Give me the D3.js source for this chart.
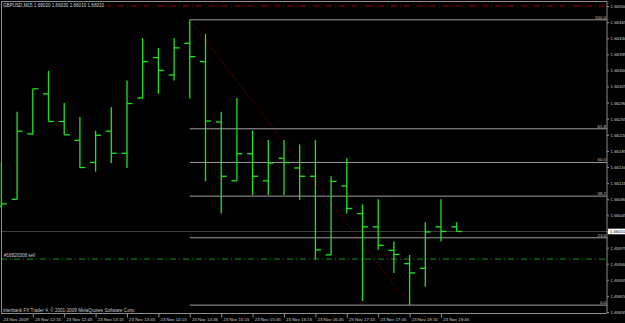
<!DOCTYPE html>
<html lang="en">
<head>
<meta charset="UTF-8">
<title>GBPUSD,M15</title>
<script src="https://d3js.org/d3.v7.min.js"></script>
<style>
    body { margin: 0; background: #000; }
    svg { display: block; font-family: 'Liberation Sans', Arial, sans-serif; }
</style>
</head>
<body>
<svg id="chart" width="625" height="323"></svg>
<script>
// OHLC of the 30 M15 bars (23 Nov 2009, 11:45 .. 19:00)
const open  = [1.66065, 1.66080, 1.66222, 1.66309, 1.66249, 1.66208, 1.66160, 1.66228, 1.66180, 1.66300,
               1.66388, 1.66350, 1.66419, 1.66379, 1.66248, 1.66120, 1.66179, 1.66120, 1.66169, 1.66148,
               1.66130, 1.65959, 1.66109, 1.66049, 1.66020, 1.65969, 1.65940, 1.65930, 1.66020, 1.66020];
const high  = [1.66161, 1.66270, 1.66320, 1.66359, 1.66289, 1.66259, 1.66229, 1.66280, 1.66338, 1.66430,
               1.66409, 1.66430, 1.66470, 1.66439, 1.66270, 1.66300, 1.66229, 1.66209, 1.66209, 1.66199,
               1.66209, 1.66130, 1.66169, 1.66069, 1.66080, 1.65988, 1.65959, 1.66030, 1.66080, 1.66030];
const low   = [1.66061, 1.66080, 1.66220, 1.66249, 1.66220, 1.66148, 1.66140, 1.66159, 1.66148, 1.66299,
               1.66309, 1.66338, 1.66299, 1.66119, 1.66049, 1.66120, 1.66089, 1.66089, 1.66089, 1.66079,
               1.65949, 1.65959, 1.66049, 1.65859, 1.65970, 1.65920, 1.65850, 1.65890, 1.65988, 1.66010];
const close = [1.66070, 1.66228, 1.66320, 1.66249, 1.66220, 1.66149, 1.66219, 1.66180, 1.66288, 1.66379,
               1.66360, 1.66409, 1.66390, 1.66250, 1.66130, 1.66179, 1.66130, 1.66159, 1.66160, 1.66130,
               1.65970, 1.66119, 1.66060, 1.66020, 1.65980, 1.65960, 1.65920, 1.66009, 1.66010, 1.66010];

const timeTickBars = [0, 2, 4, 6, 8, 10, 12, 14, 16, 18, 20, 22, 24, 26, 28];
const timeTickLabels = ["23 Nov 2009", "23 Nov 12:15", "23 Nov 12:45", "23 Nov 13:15", "23 Nov 13:45",
                        "23 Nov 14:15", "23 Nov 14:45", "23 Nov 15:15", "23 Nov 15:45", "23 Nov 16:15",
                        "23 Nov 16:45", "23 Nov 17:15", "23 Nov 17:45", "23 Nov 18:15", "23 Nov 18:45"];
const priceTicks = [1.66500, 1.66465, 1.66430, 1.66395, 1.66360, 1.66325, 1.66290, 1.66255, 1.66220, 1.66185,
                    1.66150, 1.66115, 1.66080, 1.66045, 1.66010, 1.65975, 1.65940, 1.65905, 1.65870, 1.65835];

// fibonacci retracement drawn from the swing high to the swing low
const fibLevels = [0, 23.6, 38.2, 50, 61.8, 100];
const fibHigh = 1.66470, fibLow = 1.65850;
const fibStartBar = 12, fibEndBar = 26;

const stopLoss = 1.66500;
const orderPrice = 1.65950;
const orderLabel = "#16820308 sell";
const bid = 1.66010;
const title = "GBPUSD,M15  1.66020 1.66030 1.66010 1.66010";
const copyright = "Interbank FX Trader 4, \u00a9 2001-2009 MetaQuotes Software Corp.";

const svg = d3.select("#chart");
const W = 625, H = 323;
const plotRight = 607, plotBottom = 313.5;

const x = d3.scaleLinear().domain([0, open.length - 1]).range([1.4, 456.7]);
const y = d3.scaleLinear().domain([1.65835, 1.66500]).range([312, 6]);

svg.append("rect").attr("width", W).attr("height", H).attr("fill", "#000");

// bid line
svg.append("line")
    .attr("x1", 1).attr("x2", plotRight)
    .attr("y1", y(bid)).attr("y2", y(bid))
    .attr("stroke", "#404040");

// stop loss and order lines
svg.append("line")
    .attr("x1", 1).attr("x2", plotRight)
    .attr("y1", y(stopLoss)).attr("y2", y(stopLoss))
    .attr("stroke", "#a00000").attr("stroke-dasharray", "6,3,1,3");
svg.append("line")
    .attr("x1", 1).attr("x2", plotRight)
    .attr("y1", y(orderPrice)).attr("y2", y(orderPrice))
    .attr("stroke", "#1a8c1a").attr("stroke-dasharray", "6,3,1,3");
svg.append("text")
    .attr("x", 4).attr("y", y(orderPrice) - 1.8)
    .attr("fill", "#d0d0d0").attr("font-size", 4.6)
    .text(orderLabel);

// fibonacci levels
const fibPrice = l => fibLow + (fibHigh - fibLow) * l / 100;
svg.selectAll(".fib").data(fibLevels).join("line")
    .attr("class", "fib")
    .attr("x1", x(fibStartBar)).attr("x2", plotRight)
    .attr("y1", d => y(fibPrice(d))).attr("y2", d => y(fibPrice(d)))
    .attr("stroke", "#a0a0a0");
svg.selectAll(".fibl").data(fibLevels).join("text")
    .attr("class", "fibl")
    .attr("x", plotRight - 1).attr("y", d => y(fibPrice(d)) - 1.2)
    .attr("text-anchor", "end")
    .attr("fill", "#c8c8c8").attr("font-size", 4.4)
    .text(d => d.toFixed(1));
svg.append("line")
    .attr("x1", x(fibStartBar)).attr("y1", y(fibHigh))
    .attr("x2", x(fibEndBar)).attr("y2", y(fibLow))
    .attr("stroke", "#a00000").attr("stroke-dasharray", "1,2");

// OHLC bars
const idx = d3.range(open.length);
const barColor = "#1ee61e";
const bars = svg.append("g").attr("stroke", barColor).attr("stroke-width", 1.3);
bars.selectAll(".hl").data(idx).join("line")
    .attr("x1", i => x(i)).attr("x2", i => x(i))
    .attr("y1", i => y(high[i])).attr("y2", i => y(low[i]));
bars.selectAll(".op").data(idx).join("line")
    .attr("x1", i => x(i) - 5.5).attr("x2", i => x(i))
    .attr("y1", i => y(open[i])).attr("y2", i => y(open[i]));
bars.selectAll(".cl").data(idx).join("line")
    .attr("x1", i => x(i)).attr("x2", i => x(i) + 5.5)
    .attr("y1", i => y(close[i])).attr("y2", i => y(close[i]));

// title with black background over the stop line
const t = svg.append("text")
    .attr("x", 3).attr("y", 6.8)
    .attr("fill", "#d8d8d8").attr("font-size", 4.6)
    .text(title);
const bb = t.node().getBBox();
svg.insert("rect", "text")
    .attr("x", 2).attr("y", 2).attr("width", bb.width + 3).attr("height", 7)
    .attr("fill", "#000");

svg.append("text")
    .attr("x", 3).attr("y", 311.5)
    .attr("fill", "#c8c8c8").attr("font-size", 4.6)
    .text(copyright);

// frame
const frame = svg.append("g").attr("stroke", "#8c8c8c");
frame.append("line").attr("x1", 1).attr("x2", plotRight).attr("y1", 1.5).attr("y2", 1.5);
frame.append("line").attr("x1", 1.5).attr("x2", 1.5).attr("y1", 1).attr("y2", plotBottom);
frame.append("line").attr("x1", 1).attr("x2", plotRight).attr("y1", plotBottom).attr("y2", plotBottom);
frame.append("line").attr("x1", plotRight).attr("x2", plotRight).attr("y1", 1).attr("y2", plotBottom);

// price axis
const yAxis = svg.append("g")
    .attr("transform", `translate(${plotRight},0)`)
    .call(d3.axisRight(y).tickValues(priceTicks).tickFormat(d3.format(".5f")).tickSize(2).tickPadding(1.5));
yAxis.select(".domain").remove();
yAxis.selectAll("line").attr("stroke", "#8c8c8c");
yAxis.selectAll("text").attr("fill", "#d0d0d0").attr("font-size", 4.4)
    .attr("font-family", "'Liberation Sans', Arial, sans-serif");

// current price marker
const bidBox = svg.append("g").attr("transform", `translate(608,${y(bid)})`);
bidBox.append("rect").attr("x", 0).attr("y", -2.8).attr("width", 17).attr("height", 5.6).attr("fill", "#fff");
bidBox.append("text").attr("x", 2).attr("y", 1.6)
    .attr("fill", "#000").attr("font-size", 4.4).text(d3.format(".5f")(bid));

// time axis
const xAxis = svg.append("g")
    .attr("transform", `translate(0,${plotBottom})`)
    .call(d3.axisBottom(x).tickValues(timeTickBars).tickFormat((d, i) => timeTickLabels[i]).tickSize(4));
xAxis.select(".domain").remove();
xAxis.selectAll("line").attr("stroke", "#8c8c8c");
xAxis.selectAll(".tick").filter(d => d === 0).select("line").remove();
xAxis.selectAll("text")
    .attr("x", 1.6).attr("y", 7.1).attr("dy", null)
    .attr("text-anchor", "start")
    .attr("fill", "#d0d0d0").attr("font-size", 4.4)
    .attr("font-family", "'Liberation Sans', Arial, sans-serif");
</script>
</body>
</html>
